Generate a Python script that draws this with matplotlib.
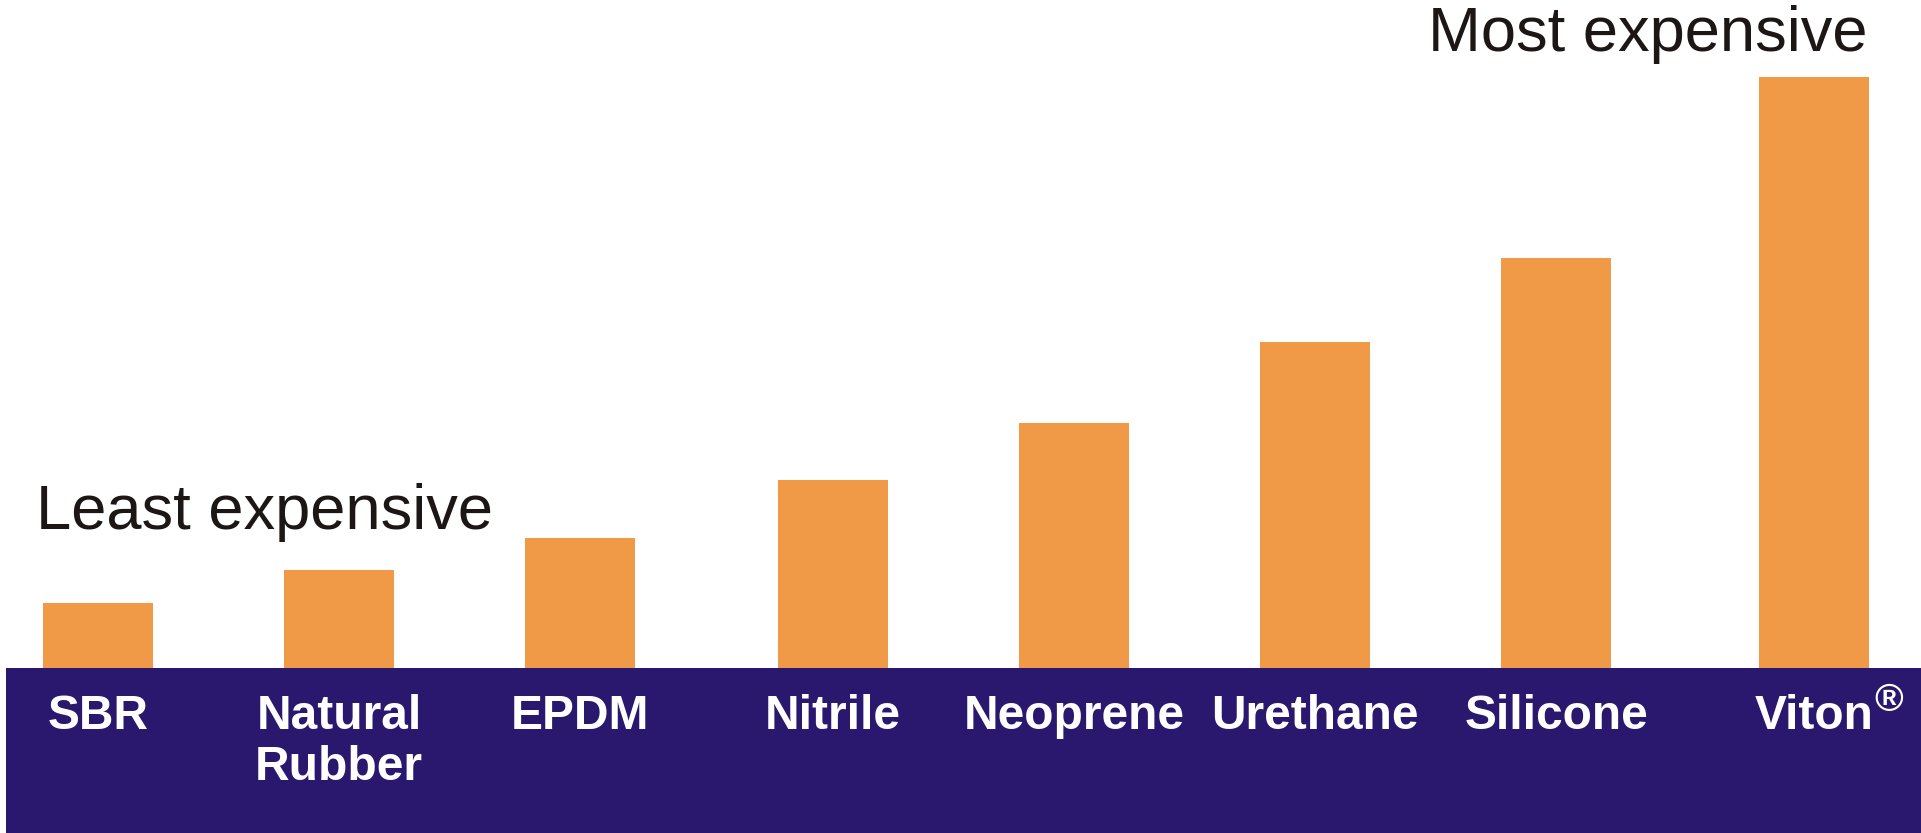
import matplotlib
matplotlib.use('Agg')
import matplotlib.pyplot as plt
from matplotlib.patches import Rectangle

# Relative cost of rubber materials (arbitrary units, Viton = 10)
materials = ['SBR', 'Natural\nRubber', 'EPDM', 'Nitrile', 'Neoprene',
             'Urethane', 'Silicone', 'Viton']
cost = [1.1, 1.66, 2.2, 3.18, 4.15, 5.52, 6.94, 10.0]
positions = [0, 1, 2, 3.05, 4.05, 5.05, 6.05, 7.12]

bar_color = '#F09A48'
band_color = '#2A176E'
text_color = '#1C1714'

fig = plt.figure(figsize=(19.21, 8.33), dpi=100)
ax = fig.add_axes([0, 0, 1, 1])
ax.set_xlim(-0.4066, 7.564)
ax.set_ylim(-2.79, 11.30)
ax.axis('off')

# dark band under the bars
ax.add_patch(Rectangle((6 / 1921, 0), 1, 165 / 833, transform=ax.transAxes,
                       facecolor=band_color, edgecolor='none', zorder=1))

ax.bar(positions, cost, width=0.457, color=bar_color, zorder=2)

label_font = dict(family=['Liberation Sans', 'DejaVu Sans'], weight='bold',
                  size=34.5, color='white')
for x, name in zip(positions, materials):
    t = ax.text(x, -0.44, name, ha='center', va='top', linespacing=1.18,
                zorder=3, **label_font)
    if name == 'Viton':
        ax.annotate('®', xy=(1, 1), xycoords=t, xytext=(1, 8),
                    textcoords='offset points', ha='left', va='top',
                    zorder=3, **{**label_font, 'size': 28})

note_font = dict(family=['Liberation Sans', 'DejaVu Sans'], size=45.5,
                 color=text_color)
fig.text(36 / 1921, 1 - 529 / 833, 'Least expensive', ha='left',
         va='baseline', **note_font)
fig.text(1868 / 1921, 1 - 51 / 833, 'Most expensive', ha='right',
         va='baseline', **note_font)

fig.savefig('out.png', dpi=100, facecolor='white')
